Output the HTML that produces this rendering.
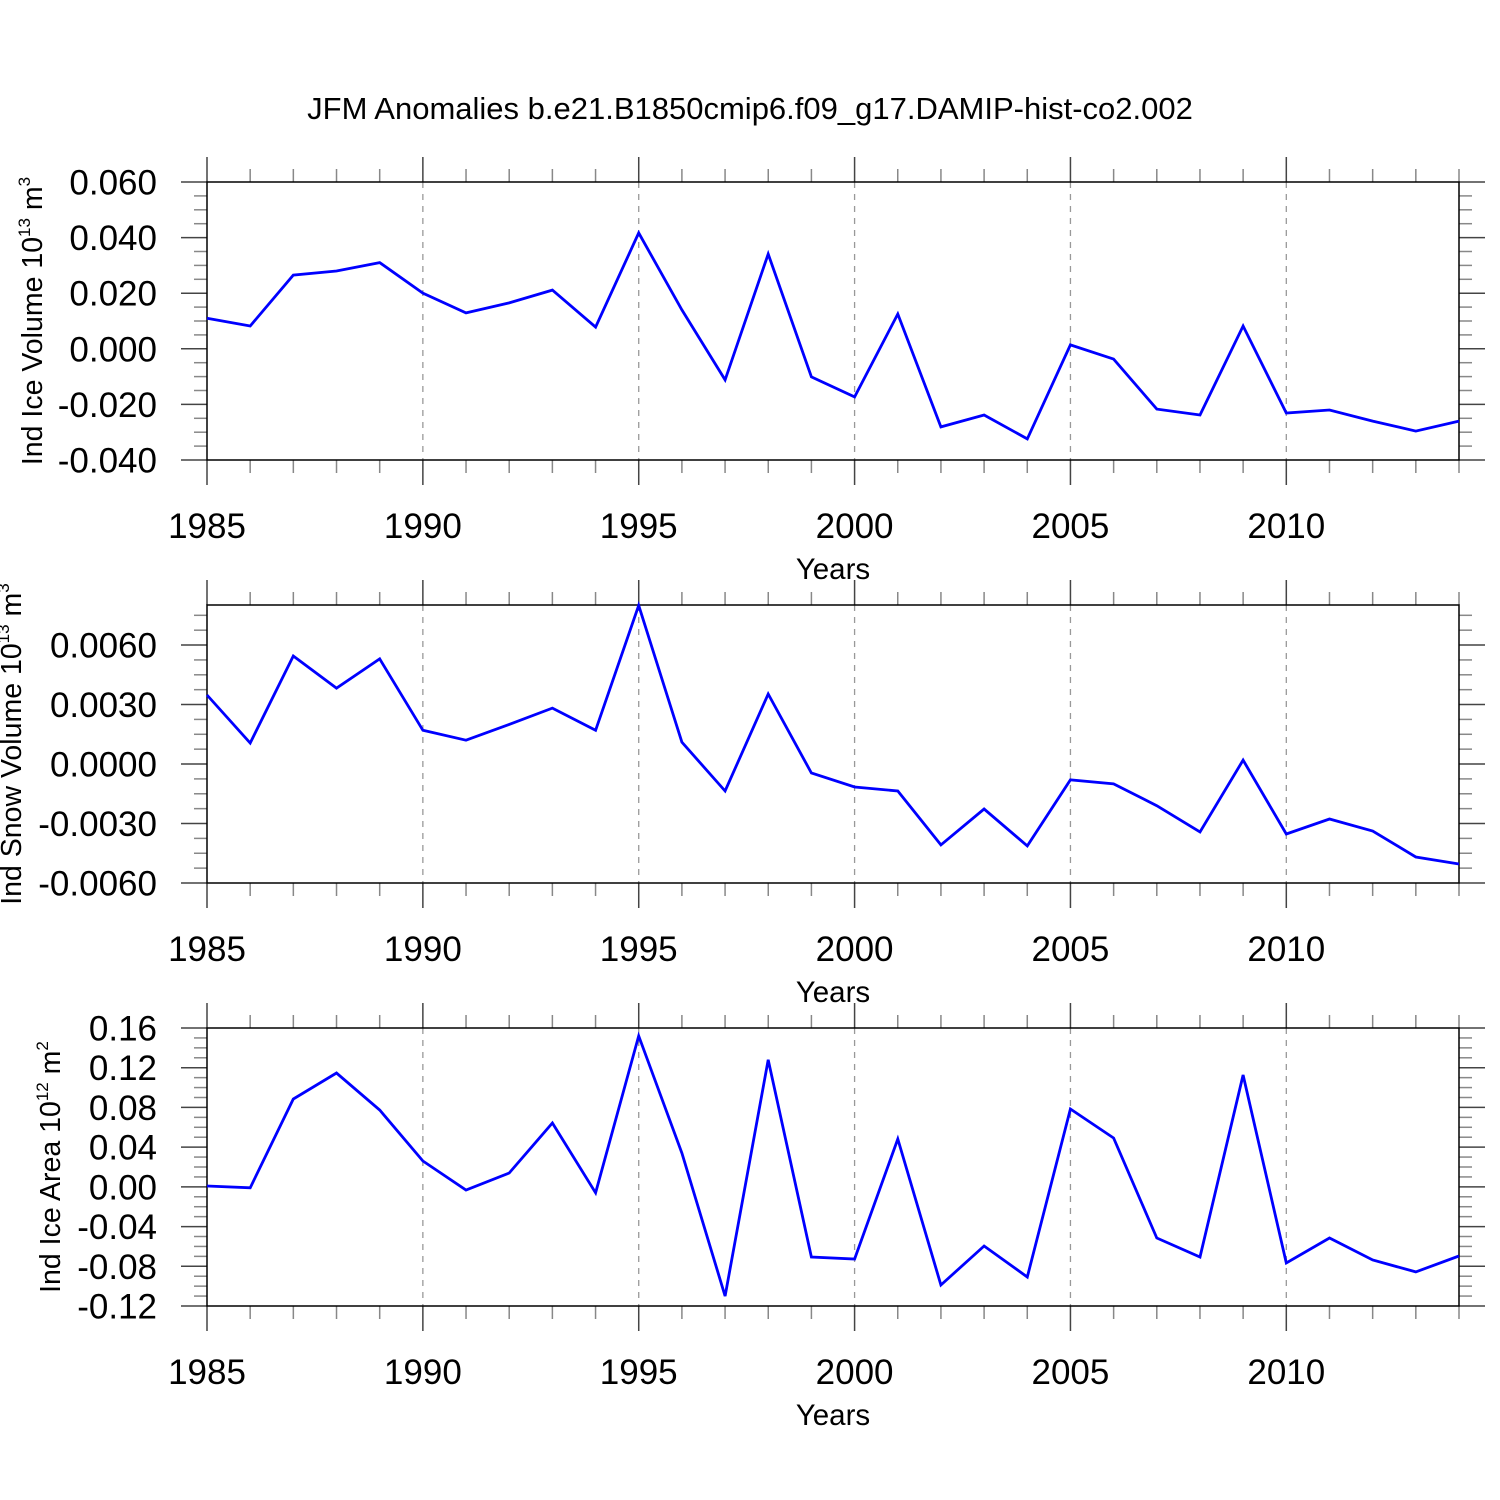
<!DOCTYPE html>
<html><head><meta charset="utf-8">
<style>
html,body{margin:0;padding:0;background:#fff;}
svg{display:block;font-family:"Liberation Sans",Arial,sans-serif;}
</style></head>
<body>
<svg id="chart" width="1500" height="1500" viewBox="0 0 1500 1500" xmlns="http://www.w3.org/2000/svg">
<rect width="1500" height="1500" fill="#fff"/>
<text x="750" y="119" font-size="31" text-anchor="middle">JFM Anomalies b.e21.B1850cmip6.f09_g17.DAMIP-hist-co2.002</text>
</svg>
<script>
const years = [1985,1986,1987,1988,1989,1990,1991,1992,1993,1994,1995,1996,1997,1998,1999,2000,2001,2002,2003,2004,2005,2006,2007,2008,2009,2010,2011,2012,2013,2014];
const iceVolume = [0.011,0.0082,0.0265,0.028,0.031,0.020,0.0129,0.0165,0.0211,0.0078,0.0417,0.014,-0.0112,0.0341,-0.0101,-0.0173,0.0125,-0.0281,-0.0238,-0.0324,0.0014,-0.0037,-0.0217,-0.0238,0.0082,-0.0231,-0.022,-0.026,-0.0296,-0.026];
const snowVolume = [0.00348,0.00106,0.00545,0.00383,0.0053,0.0017,0.0012,0.0020,0.00282,0.0017,0.0080,0.0011,-0.00136,0.00353,-0.00045,-0.00116,-0.00136,-0.00408,-0.00227,-0.00413,-0.0008,-0.001,-0.0021,-0.00343,0.0002,-0.00353,-0.00277,-0.00338,-0.00469,-0.00504];
const iceArea = [0.0009,-0.001,0.0885,0.1147,0.0774,0.026,-0.0032,0.014,0.0643,-0.006,0.152,0.034,-0.11,0.128,-0.0706,-0.0727,0.0482,-0.0988,-0.0596,-0.0908,0.0784,0.0492,-0.0515,-0.0706,0.1127,-0.0767,-0.0515,-0.0737,-0.0857,-0.0696];
const xTickYears = [1985,1990,1995,2000,2005,2010];
const iceVolTicks = [0.060,0.040,0.020,0.000,-0.020,-0.040];
const iceVolTickLabels = ["0.060","0.040","0.020","0.000","-0.020","-0.040"];
const snowTicks = [0.006,0.003,0.0,-0.003,-0.006];
const snowTickLabels = ["0.0060","0.0030","0.0000","-0.0030","-0.0060"];
const areaTicks = [0.16,0.12,0.08,0.04,0.0,-0.04,-0.08,-0.12];
const areaTickLabels = ["0.16","0.12","0.08","0.04","0.00","-0.04","-0.08","-0.12"];

const NS="http://www.w3.org/2000/svg";
const svg=document.getElementById('chart');
function mk(tag,attrs,parent){const e=document.createElementNS(NS,tag);for(const k in attrs)e.setAttribute(k,attrs[k]);(parent||svg).appendChild(e);return e;}
const X0=207,X1=1459,YR0=1985,YR1=2014;
function xs(yr){return X0+(yr-YR0)*(X1-X0)/(YR1-YR0);}

function panel(cfg){
  const g=mk('g',{});
  
  
  const top=cfg.top,bot=cfg.top+278;
  const ys=v=>top+(cfg.ymax-v)*(bot-top)/(cfg.ymax-cfg.ymin);
  xTickYears.forEach(yr=>{ if(yr===YR0)return;
    const l=mk('line',{x1:xs(yr),x2:xs(yr),y1:top,y2:bot,stroke:'#999','stroke-width':1.3,'stroke-dasharray':'6,6'},g);
    
    
  });
  for(let yr=YR0;yr<=YR1;yr++){
    const major=xTickYears.includes(yr);
    const len=major?25:13;
    const c=major?'#444':'#888';
    mk('line',{x1:xs(yr),x2:xs(yr),y1:top,y2:top-len,stroke:c,'stroke-width':1.5},g);
    mk('line',{x1:xs(yr),x2:xs(yr),y1:bot,y2:bot+len,stroke:c,'stroke-width':1.5},g);
  }
  for(let v=cfg.ymin; v<=cfg.ymax+1e-12; v+=cfg.minor){
    const vv=Math.round(v/cfg.minor)*cfg.minor;
    const y=ys(vv);
    const major=cfg.ticks.some(t=>Math.abs(t-vv)<cfg.minor/10);
    const len=major?26:13, c=major?'#444':'#888';
    mk('line',{x1:X0,x2:X0-len,y1:y,y2:y,stroke:c,'stroke-width':1.5},g);
    mk('line',{x1:X1,x2:X1+len,y1:y,y2:y,stroke:c,'stroke-width':1.5},g);
  }
  const fr=mk('rect',{x:X0,y:top,width:X1-X0,height:bot-top,fill:'none',stroke:'#000','stroke-width':1.5},g);
  
  
  cfg.ticks.forEach((t,i)=>{
    const tx=mk('text',{x:157,y:ys(t)+12.5,'font-size':35,'text-anchor':'end'},g);
    tx.textContent=cfg.labels[i];
    
    
  });
  xTickYears.forEach(yr=>{
    const tx=mk('text',{x:xs(yr),y:bot+78,'font-size':35,'text-anchor':'middle'},g);
    tx.textContent=yr;
    
    
  });
  const xt=mk('text',{x:833,y:bot+119,'font-size':29.5,'text-anchor':'middle'},g);
  xt.textContent='Years';
  
  
  const yt=mk('text',{x:0,y:0,'font-size':28.5,'text-anchor':'middle',transform:`translate(${cfg.ytx},${(top+bot)/2}) rotate(-90)`},g);
  
  
  yt.innerHTML=cfg.ytitle+' 10<tspan font-size="17" dy="-12">'+cfg.exp1+'</tspan><tspan dy="12"> m</tspan><tspan font-size="17" dy="-12">'+cfg.exp2+'</tspan>';
  const pts=years.map((yr,i)=>xs(yr).toFixed(1)+','+ys(cfg.data[i]).toFixed(1)).join(' ');
  const pl=mk('polyline',{points:pts,fill:'none',stroke:'#0000ff','stroke-width':2.8,'stroke-linejoin':'miter'},g);
  
  
}
panel({name:'ice-volume-panel',top:182,ymin:-0.04,ymax:0.06,minor:0.005,ticks:iceVolTicks,labels:iceVolTickLabels,data:iceVolume,ytitle:'Ind Ice Volume',exp1:'13',exp2:'3',ytx:42});
panel({name:'snow-volume-panel',top:605,ymin:-0.006,ymax:0.00802,minor:0.00075,ticks:snowTicks,labels:snowTickLabels,data:snowVolume,ytitle:'Ind Snow Volume',exp1:'13',exp2:'3',ytx:21});
panel({name:'ice-area-panel',top:1028,ymin:-0.12,ymax:0.16,minor:0.01,ticks:areaTicks,labels:areaTickLabels,data:iceArea,ytitle:'Ind Ice Area',exp1:'12',exp2:'2',ytx:60});
</script>
</body></html>
